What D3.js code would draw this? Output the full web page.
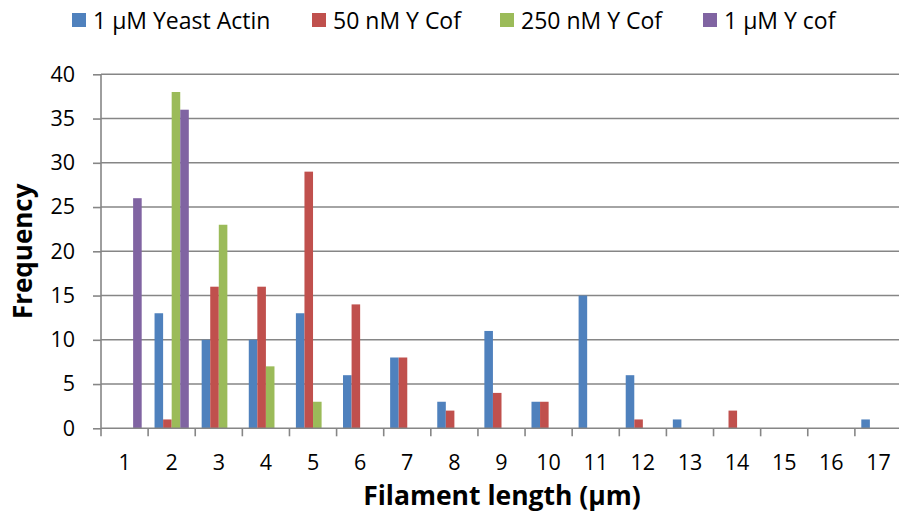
<!DOCTYPE html>
<html>
<head>
<meta charset="utf-8">
<script src="https://cdn.jsdelivr.net/npm/d3@7"></script>
<style>
  html, body { margin: 0; padding: 0; background: #fff; }
  svg { display: block; }
  text { font-family: "Open Sans", "DejaVu Sans", sans-serif; fill: #000; }
</style>
</head>
<body>
<svg id="chart" width="899" height="527"></svg>
<script>
// Filament length histogram (µm), four conditions
const categories = ["1","2","3","4","5","6","7","8","9","10","11","12","13","14","15","16","17"];
const seriesNames = ["1 µM Yeast Actin", "50 nM Y Cof", "250 nM Y Cof", "1 µM Y cof"];
const yeastActin = [0, 13, 10, 10, 13, 6, 8, 3, 11, 3, 15, 6, 1, 0, 0, 0, 1];
const cof50nM    = [0, 1, 16, 16, 29, 14, 8, 2, 4, 3, 0, 1, 0, 2, 0, 0, 0];
const cof250nM   = [0, 38, 23, 7, 3, 0, 0, 0, 0, 0, 0, 0, 0, 0, 0, 0, 0];
const cof1uM     = [26, 36, 0, 0, 0, 0, 0, 0, 0, 0, 0, 0, 0, 0, 0, 0, 0];
const yTicks = [0, 5, 10, 15, 20, 25, 30, 35, 40];
const colors = ["#4F81BD", "#C0504D", "#9BBB59", "#8064A2"];

const seriesValues = [yeastActin, cof50nM, cof250nM, cof1uM];

const svg = d3.select("#chart");
const plot = { left: 101, right: 902, top: 74.3, bottom: 428.3 };

const x = d3.scaleBand().domain(categories).range([plot.left, plot.right]).padding(0);
const xs = d3.scaleBand().domain(d3.range(seriesNames.length))
  .range([0, x.bandwidth()]).paddingInner(0).paddingOuter(0.75);
const y = d3.scaleLinear().domain([0, 40]).range([plot.bottom, plot.top]);

const axisColor = "#868686";

// horizontal gridlines
svg.append("g").selectAll("line").data(yTicks.filter(d => d > 0)).join("line")
  .attr("x1", plot.left).attr("x2", plot.right)
  .attr("y1", d => y(d)).attr("y2", d => y(d))
  .attr("stroke", axisColor).attr("stroke-width", 1.6);

// bars
const groups = svg.append("g").selectAll("g").data(seriesValues).join("g")
  .attr("fill", (d, i) => colors[i])
  .attr("data-series", (d, i) => seriesNames[i]);
groups.each(function(vals, si) {
  d3.select(this).selectAll("rect").data(vals).join("rect")
    .attr("x", (v, ci) => x(categories[ci]) + xs(si))
    .attr("width", xs.bandwidth())
    .attr("y", v => y(v))
    .attr("height", v => y(0) - y(v));
});

// y axis
const yAxis = svg.append("g").attr("transform", `translate(${plot.left},0)`)
  .call(d3.axisLeft(y).tickValues(yTicks).tickSize(8).tickPadding(18));
yAxis.select(".domain").attr("stroke", axisColor).attr("stroke-width", 1.6)
  .attr("d", `M0,${plot.top}V${plot.bottom}`);
yAxis.selectAll(".tick line").attr("stroke", axisColor).attr("stroke-width", 1.6);
yAxis.selectAll(".tick text").attr("font-size", 21.5).attr("font-family", "Open Sans").attr("fill", "#000");

// x axis: ticks on category boundaries, labels at category centres
const xAxisG = svg.append("g").attr("transform", `translate(0,${plot.bottom})`);
xAxisG.append("line").attr("x1", plot.left).attr("x2", plot.right)
  .attr("stroke", axisColor).attr("stroke-width", 1.6);
const boundaries = categories.map(c => x(c)).concat([plot.right]);
xAxisG.selectAll("line.tick").data(boundaries).join("line").attr("class", "tick")
  .attr("x1", d => d).attr("x2", d => d).attr("y1", 0).attr("y2", 8)
  .attr("stroke", axisColor).attr("stroke-width", 1.6);
xAxisG.selectAll("text").data(categories).join("text")
  .attr("x", d => x(d) + x.bandwidth() / 2)
  .attr("y", 42)
  .attr("text-anchor", "middle")
  .attr("font-size", 21.5)
  .text(d => d);

// axis titles
svg.append("text")
  .attr("transform", `translate(32,${(plot.top + plot.bottom) / 2}) rotate(-90)`)
  .attr("text-anchor", "middle")
  .attr("font-size", 26).attr("font-weight", "bold")
  .text("Frequency");
svg.append("text")
  .attr("x", 502).attr("y", 505)
  .attr("text-anchor", "middle")
  .attr("font-size", 26.5).attr("font-weight", "bold")
  .text("Filament length (µm)");

// legend
const legendX = [72, 312, 500, 703];
const legend = svg.append("g").selectAll("g").data(seriesNames).join("g")
  .attr("transform", (d, i) => `translate(${legendX[i]},0)`);
legend.append("rect").attr("x", 0).attr("y", 13).attr("width", 14).attr("height", 14)
  .attr("fill", (d, i) => colors[i]);
legend.append("text").attr("x", 21).attr("y", 28.5)
  .attr("font-size", 23).text(d => d);
</script>
</body>
</html>
